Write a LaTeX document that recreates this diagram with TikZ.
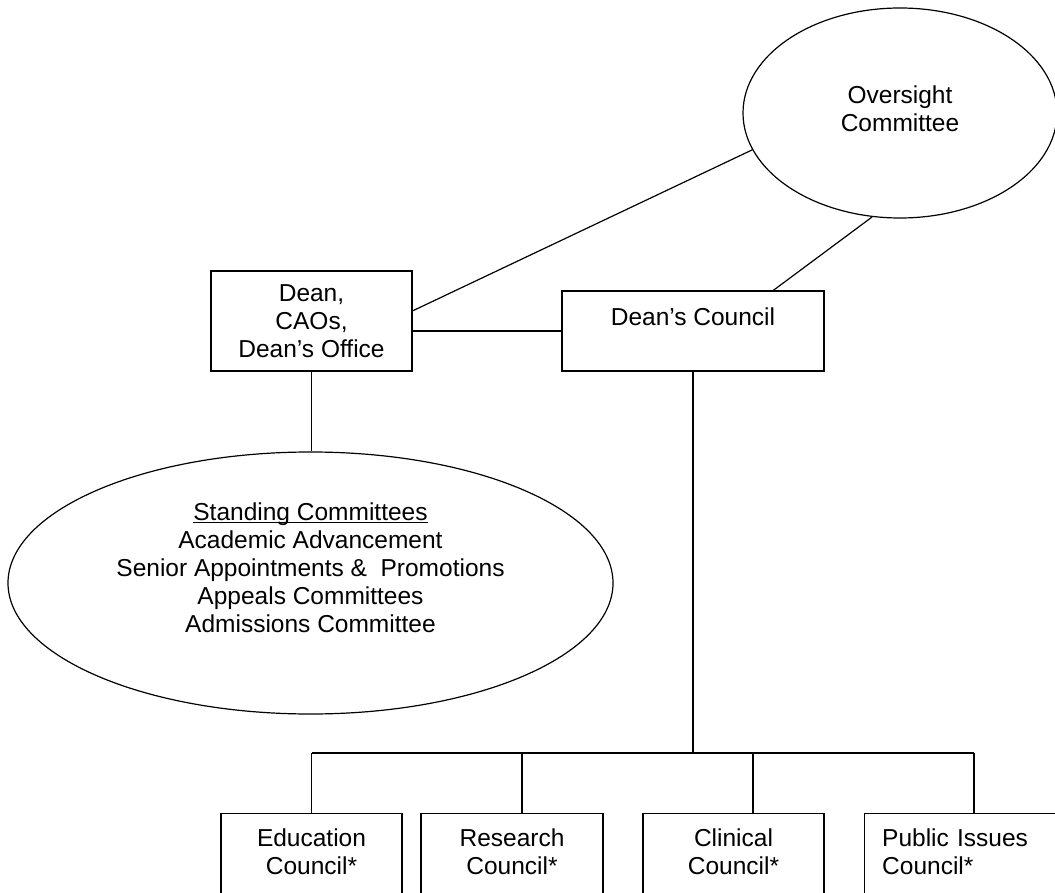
\documentclass[tikz,border=0pt]{standalone}
\usepackage{fontspec}
\setmainfont{Liberation Sans}
\usetikzlibrary{shapes.geometric,calc}
\newcommand\myul[1]{\setbox0\hbox{#1}\rlap{\rule[-2.8pt]{\wd0}{1.3pt}}\box0}
\begin{document}
\begin{tikzpicture}[x=1pt,y=-1pt,line width=1.2pt,
  every node/.style={font=\fontsize{24.5}{28}\selectfont,align=center,inner sep=0pt},
  box/.style={draw,rectangle},
  oval/.style={draw,ellipse}]
\clip (0,0) rectangle (1055,893);
% nodes
\node[oval,minimum width=314pt,minimum height=210pt,text depth=8pt] (over) at (900,113) {Oversight\\Committee};
\node[box,minimum width=201pt,minimum height=100pt] (dean) at (311.5,321) {Dean,\\CAOs,\\Dean’s Office};
\node[box,minimum width=262pt,minimum height=80pt] (dc) at (693,331) {Dean’s Council\\\mbox{}};
\node[oval,minimum width=605pt,minimum height=262pt] (std) at (310.5,583) {};
\node (stdtext) at (310.5,567.5) {\myul{Standing Committees}\\Academic Advancement\\Senior Appointments \&~ Promotions\\Appeals Committees\\Admissions Committee};
\node[box,anchor=north,minimum width=181pt,minimum height=104pt] (edu) at (311.5,813) {Education\\Council*\\\mbox{}};
\node[box,anchor=north,minimum width=182pt,minimum height=104pt] (res) at (512,813) {Research\\Council*\\\mbox{}};
\node[box,anchor=north,minimum width=181pt,minimum height=104pt] (cli) at (733.5,813) {Clinical\\Council*\\\mbox{}};
\node[box,anchor=north west,text width=170pt,align=left,inner xsep=17.6pt,minimum height=104pt] (pub) at (864,813) {Public Issues\\Council*\\\mbox{}};
% coordinates of the bus
\coordinate (s1) at (311.5,753);
\coordinate (s2) at (522,753);
\coordinate (s3) at (753,753);
\coordinate (s4) at (974,753);
% connectors
\draw ($(dean.north east)!0.4!(dean.south east)$) -- (over.194);
\draw ($(dc.north west)!0.805!(dc.north east)$) -- (over.255);
\draw (dc.west -| dean.east) -- (dc.west);
\draw (dean.south) -- (dean.south |- std.north);
\draw (dc.south) -- (dc.south |- s1);
\draw (s1) -- (s4);
\draw (s1) -- (s1 |- edu.north);
\draw (s2) -- (s2 |- res.north);
\draw (s3) -- (s3 |- cli.north);
\draw (s4) -- (s4 |- pub.north);
\end{tikzpicture}
\end{document}
